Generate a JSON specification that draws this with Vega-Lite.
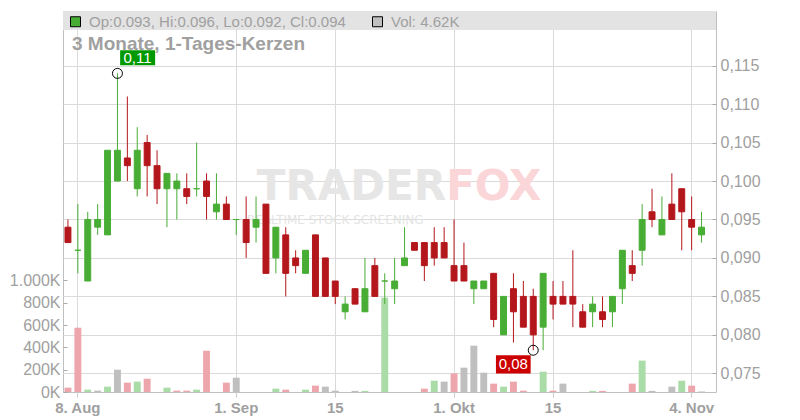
{
  "$schema": "https://vega.github.io/schema/vega-lite/v6.json",
  "width": 653,
  "height": 381,
  "autosize": {"type": "none"},
  "padding": {"left": 63, "top": 11, "right": 84, "bottom": 28},
  "background": "white",
  "title": {"text": "3 Monate, 1-Tages-Kerzen", "anchor": "start", "frame": "group", "offset": -37, "baseline": "alphabetic", "dx": 9, "dy": 21, "fontSize": 19, "fontWeight": "bold", "color": "#a0a0a0", "font": "Liberation Sans"},
  "datasets": {
    "ohlc": [
      {"date":"2025-08-07","open":0.094,"high":0.095,"low":0.092,"close":0.092,"volume":39000},
      {"date":"2025-08-08","open":0.091,"high":0.097,"low":0.088,"close":0.091,"volume":576000},
      {"date":"2025-08-11","open":0.087,"high":0.096,"low":0.087,"close":0.095,"volume":21000},
      {"date":"2025-08-12","open":0.094,"high":0.097,"low":0.093,"close":0.095,"volume":12000},
      {"date":"2025-08-13","open":0.093,"high":0.104,"low":0.093,"close":0.104,"volume":48000},
      {"date":"2025-08-14","open":0.1,"high":0.114,"low":0.1,"close":0.104,"volume":200000},
      {"date":"2025-08-15","open":0.103,"high":0.111,"low":0.1,"close":0.102,"volume":84000},
      {"date":"2025-08-18","open":0.099,"high":0.107,"low":0.098,"close":0.104,"volume":93000},
      {"date":"2025-08-19","open":0.105,"high":0.106,"low":0.098,"close":0.102,"volume":119000},
      {"date":"2025-08-20","open":0.102,"high":0.104,"low":0.097,"close":0.099,"volume":0},
      {"date":"2025-08-21","open":0.099,"high":0.101,"low":0.094,"close":0.101,"volume":39000},
      {"date":"2025-08-22","open":0.099,"high":0.101,"low":0.095,"close":0.1,"volume":12000},
      {"date":"2025-08-25","open":0.099,"high":0.101,"low":0.097,"close":0.098,"volume":12000},
      {"date":"2025-08-26","open":0.099,"high":0.105,"low":0.098,"close":0.099,"volume":21000},
      {"date":"2025-08-27","open":0.1,"high":0.101,"low":0.095,"close":0.098,"volume":370000},
      {"date":"2025-08-28","open":0.096,"high":0.101,"low":0.095,"close":0.097,"volume":0},
      {"date":"2025-08-29","open":0.097,"high":0.098,"low":0.095,"close":0.095,"volume":84000},
      {"date":"2025-09-01","open":0.095,"high":0.095,"low":0.093,"close":0.095,"volume":128000},
      {"date":"2025-09-02","open":0.095,"high":0.098,"low":0.09,"close":0.092,"volume":0},
      {"date":"2025-09-03","open":0.094,"high":0.098,"low":0.092,"close":0.095,"volume":0},
      {"date":"2025-09-04","open":0.097,"high":0.097,"low":0.088,"close":0.088,"volume":0},
      {"date":"2025-09-05","open":0.09,"high":0.094,"low":0.088,"close":0.094,"volume":30000},
      {"date":"2025-09-08","open":0.093,"high":0.094,"low":0.085,"close":0.088,"volume":21000},
      {"date":"2025-09-09","open":0.09,"high":0.091,"low":0.088,"close":0.089,"volume":0},
      {"date":"2025-09-10","open":0.088,"high":0.091,"low":0.088,"close":0.091,"volume":21000},
      {"date":"2025-09-11","open":0.093,"high":0.093,"low":0.085,"close":0.085,"volume":57000},
      {"date":"2025-09-12","open":0.09,"high":0.09,"low":0.085,"close":0.085,"volume":48000},
      {"date":"2025-09-15","open":0.087,"high":0.087,"low":0.084,"close":0.085,"volume":12000},
      {"date":"2025-09-16","open":0.083,"high":0.085,"low":0.082,"close":0.084,"volume":0},
      {"date":"2025-09-17","open":0.086,"high":0.086,"low":0.084,"close":0.084,"volume":10000},
      {"date":"2025-09-18","open":0.083,"high":0.09,"low":0.083,"close":0.086,"volume":10000},
      {"date":"2025-09-19","open":0.089,"high":0.09,"low":0.085,"close":0.085,"volume":0},
      {"date":"2025-09-22","open":0.087,"high":0.088,"low":0.084,"close":0.087,"volume":845000},
      {"date":"2025-09-23","open":0.086,"high":0.09,"low":0.084,"close":0.087,"volume":0},
      {"date":"2025-09-24","open":0.089,"high":0.094,"low":0.089,"close":0.09,"volume":0},
      {"date":"2025-09-25","open":0.092,"high":0.092,"low":0.091,"close":0.091,"volume":0},
      {"date":"2025-09-26","open":0.092,"high":0.092,"low":0.087,"close":0.089,"volume":30000},
      {"date":"2025-09-29","open":0.092,"high":0.094,"low":0.089,"close":0.09,"volume":101000},
      {"date":"2025-09-30","open":0.092,"high":0.094,"low":0.09,"close":0.09,"volume":93000},
      {"date":"2025-10-01","open":0.089,"high":0.095,"low":0.087,"close":0.087,"volume":167000},
      {"date":"2025-10-02","open":0.089,"high":0.092,"low":0.087,"close":0.087,"volume":218000},
      {"date":"2025-10-03","open":0.086,"high":0.087,"low":0.084,"close":0.087,"volume":415000},
      {"date":"2025-10-06","open":0.086,"high":0.087,"low":0.086,"close":0.087,"volume":173000},
      {"date":"2025-10-07","open":0.088,"high":0.088,"low":0.081,"close":0.082,"volume":75000},
      {"date":"2025-10-08","open":0.08,"high":0.085,"low":0.08,"close":0.085,"volume":48000},
      {"date":"2025-10-09","open":0.086,"high":0.088,"low":0.079,"close":0.083,"volume":93000},
      {"date":"2025-10-10","open":0.085,"high":0.087,"low":0.081,"close":0.081,"volume":12000},
      {"date":"2025-10-13","open":0.085,"high":0.086,"low":0.078,"close":0.08,"volume":0},
      {"date":"2025-10-14","open":0.081,"high":0.088,"low":0.078,"close":0.088,"volume":182000},
      {"date":"2025-10-15","open":0.085,"high":0.087,"low":0.082,"close":0.084,"volume":12000},
      {"date":"2025-10-16","open":0.085,"high":0.087,"low":0.084,"close":0.084,"volume":75000},
      {"date":"2025-10-17","open":0.085,"high":0.091,"low":0.081,"close":0.084,"volume":0},
      {"date":"2025-10-20","open":0.083,"high":0.084,"low":0.081,"close":0.081,"volume":0},
      {"date":"2025-10-21","open":0.083,"high":0.085,"low":0.081,"close":0.084,"volume":10000},
      {"date":"2025-10-22","open":0.083,"high":0.085,"low":0.081,"close":0.082,"volume":10000},
      {"date":"2025-10-23","open":0.083,"high":0.085,"low":0.081,"close":0.085,"volume":0},
      {"date":"2025-10-24","open":0.086,"high":0.091,"low":0.084,"close":0.091,"volume":0},
      {"date":"2025-10-27","open":0.089,"high":0.091,"low":0.087,"close":0.088,"volume":75000},
      {"date":"2025-10-28","open":0.091,"high":0.097,"low":0.089,"close":0.095,"volume":281000},
      {"date":"2025-10-29","open":0.096,"high":0.099,"low":0.094,"close":0.095,"volume":10000},
      {"date":"2025-10-30","open":0.093,"high":0.098,"low":0.093,"close":0.095,"volume":0},
      {"date":"2025-10-31","open":0.097,"high":0.101,"low":0.095,"close":0.095,"volume":48000},
      {"date":"2025-11-03","open":0.099,"high":0.099,"low":0.091,"close":0.096,"volume":101000},
      {"date":"2025-11-04","open":0.095,"high":0.098,"low":0.091,"close":0.094,"volume":57000},
      {"date":"2025-11-05","open":0.093,"high":0.096,"low":0.092,"close":0.094,"volume":4620}
    ]
  },
  "data": {"name": "ohlc"},
  "encoding": {
    "x": {
      "field": "date",
      "type": "ordinal",
      "scale": {"paddingInner": 0, "paddingOuter": 0.48, "align": 0},
      "axis": {
        "values": ["2025-08-08","2025-09-01","2025-09-15","2025-10-01","2025-10-15","2025-11-04"],
        "labelExpr": "{'2025-08-08':'8. Aug','2025-09-01':'1. Sep','2025-09-15':'15','2025-10-01':'1. Okt','2025-10-15':'15','2025-11-04':'4. Nov'}[datum.value]",
        "labelAngle": 0,
        "title": null,
        "grid": true,
        "gridColor": "#dadada",
        "domain": false,
        "ticks": true,
        "tickSize": 5,
        "tickColor": "#cccccc",
        "bandPosition": 0.5,
        "labelFontSize": 15,
        "labelColor": "#a0a0a0",
        "labelFont": "Liberation Sans",
        "labelFontWeight": {"condition": {"test": "datum.label == '15'", "value": "normal"}, "value": "bold"},
        "labelPadding": 3,
        "labelOverlap": false
      }
    }
  },
  "layer": [
    {
      "transform": [{"window": [{"op": "lag", "field": "close", "as": "prev"}], "sort": [{"field": "date"}]}],
      "mark": {"type": "bar", "width": {"band": 0.7}},
      "encoding": {
        "y": {
          "field": "volume",
          "type": "quantitative",
          "scale": {"domain": [0, 3414000], "nice": false, "zero": true},
          "axis": {
            "orient": "left",
            "title": null,
            "values": [0, 200000, 400000, 600000, 800000, 1000000],
            "labelExpr": "format(datum.value / 1000, ',') + 'K'",
            "grid": false,
            "domain": false,
            "tickSize": -4,
            "tickColor": "#aaaaaa",
            "labelPadding": 7,
            "labelFontSize": 16,
            "labelColor": "#a0a0a0",
            "labelFont": "Liberation Sans",
            "labelOverlap": false
          }
        },
        "color": {
          "condition": [
            {"test": "datum.prev == null || datum.close < datum.prev", "value": "#eea6ad"},
            {"test": "datum.close > datum.prev", "value": "#a9dca6"}
          ],
          "value": "#bfbfbf"
        }
      }
    },
    {
      "layer": [
        {
          "data": {"values": [{}]},
          "mark": {"type": "rect", "color": "#e3e3e3"},
          "encoding": {
            "x": {"value": 0},
            "x2": {"value": "width"},
            "y": {"datum": 0.11964, "type": "quantitative"},
            "y2": {"datum": 0.12211}
          }
        },
        {
          "data": {"values": [{}]},
          "mark": {"type": "text", "text": "TRADER", "align": "right", "baseline": "alphabetic", "dx": 2, "font": "DejaVu Sans", "fontWeight": "bold", "fontSize": 42, "color": "#e6e6e6"},
          "encoding": {
            "x": {"datum": "2025-09-30", "type": "ordinal"},
            "y": {"datum": 0.0975, "type": "quantitative"}
          }
        },
        {
          "data": {"values": [{}]},
          "mark": {"type": "text", "text": "FOX", "align": "left", "baseline": "alphabetic", "dx": 2, "font": "DejaVu Sans", "fontWeight": "bold", "fontSize": 42, "color": "#fbd6d9"},
          "encoding": {
            "x": {"datum": "2025-09-30", "type": "ordinal"},
            "y": {"datum": 0.0975, "type": "quantitative"}
          }
        },
        {
          "data": {"values": [{}]},
          "mark": {"type": "text", "text": "REALTIME STOCK SCREENING", "align": "center", "baseline": "middle", "dx": 0, "font": "DejaVu Sans", "fontSize": 12, "color": "#e4e4e4"},
          "encoding": {
            "x": {"datum": "2025-09-15", "type": "ordinal"},
            "y": {"datum": 0.09494, "type": "quantitative"}
          }
        },
        {
          "mark": {"type": "rule", "strokeWidth": 1},
          "encoding": {
            "y": {
              "field": "low",
              "type": "quantitative",
              "scale": {"domain": [0.07257, 0.12211], "nice": false, "zero": false},
              "axis": {
                "orient": "right",
                "title": null,
                "values": [0.075, 0.08, 0.085, 0.09, 0.095, 0.1, 0.105, 0.11, 0.115],
                "format": ".3f",
                "grid": true,
                "gridColor": "#dadada",
                "domain": false,
                "tickSize": -4,
                "tickColor": "#aaaaaa",
                "labelPadding": 8,
                "labelFontSize": 16,
                "labelColor": "#a0a0a0",
                "labelFont": "Liberation Sans",
                "labelOverlap": false
              }
            },
            "y2": {"field": "high"},
            "color": {"condition": {"test": "datum.close >= datum.open", "value": "#48ad34"}, "value": "#b4171b"}
          }
        },
        {
          "mark": {"type": "bar", "width": {"band": 0.6}, "strokeWidth": 1},
          "encoding": {
            "y": {"field": "open", "type": "quantitative"},
            "y2": {"field": "close"},
            "color": {"condition": {"test": "datum.close >= datum.open", "value": "#48ad34"}, "value": "#b4171b"},
            "stroke": {"condition": {"test": "datum.close >= datum.open", "value": "#48ad34"}, "value": "#b4171b"}
          }
        },
        {
          "transform": [{"filter": "datum.date == '2025-08-14'"}],
          "mark": {"type": "point", "shape": "M0.27,-2.3H3.77V-0.8H0.27Z", "size": 400, "filled": true, "color": "#009a00", "opacity": 1},
          "encoding": {"y": {"field": "high", "type": "quantitative"}}
        },
        {
          "transform": [{"filter": "datum.date == '2025-08-14'"}],
          "mark": {"type": "text", "dx": 20, "dy": -15.5, "align": "center", "baseline": "middle", "fontSize": 15, "color": "white", "font": "Liberation Sans"},
          "encoding": {"y": {"field": "high", "type": "quantitative"}, "text": {"field": "high", "type": "quantitative", "format": ".2f"}}
        },
        {
          "transform": [{"filter": "datum.date == '2025-08-14'"}],
          "mark": {"type": "point", "shape": "circle", "size": 100, "filled": false, "color": "#000000", "strokeWidth": 1, "opacity": 1},
          "encoding": {"y": {"field": "high", "type": "quantitative"}}
        },
        {
          "transform": [{"filter": "datum.date == '2025-10-13'"}],
          "mark": {"type": "point", "shape": "M-3.73,0.5H-0.26V2.33H-3.73Z", "size": 400, "filled": true, "color": "#cc0000", "opacity": 1},
          "encoding": {"y": {"field": "low", "type": "quantitative"}}
        },
        {
          "transform": [{"filter": "datum.date == '2025-10-13'"}],
          "mark": {"type": "text", "dx": -20, "dy": 14.2, "align": "center", "baseline": "middle", "fontSize": 15, "color": "white", "font": "Liberation Sans"},
          "encoding": {"y": {"field": "low", "type": "quantitative"}, "text": {"field": "low", "type": "quantitative", "format": ".2f"}}
        },
        {
          "transform": [{"filter": "datum.date == '2025-10-13'"}],
          "mark": {"type": "point", "shape": "circle", "size": 100, "filled": false, "color": "#000000", "strokeWidth": 1, "opacity": 1},
          "encoding": {"y": {"field": "low", "type": "quantitative"}}
        }
      ]
    },
    {
      "data": {"values": [{"item": "Op:0.093, Hi:0.096, Lo:0.092, Cl:0.094"}, {"item": "Vol: 4.62K"}]},
      "mark": {"type": "square", "opacity": 0},
      "encoding": {
        "x": {"value": 0},
        "color": {
          "field": "item",
          "type": "nominal",
          "sort": null,
          "scale": {"range": ["#48ad34", "#bfbfbf"]},
          "legend": {
            "orient": "none",
            "legendX": 5,
            "legendY": 3,
            "direction": "horizontal",
            "title": null,
            "symbolType": "square",
            "symbolSize": 100,
            "symbolStrokeColor": "#000000",
            "symbolStrokeWidth": 1,
            "symbolOpacity": 1,
            "labelFontSize": 15,
            "labelColor": "#a0a0a0",
            "labelFont": "Liberation Sans",
            "labelOffset": 6,
            "columnPadding": 24,
            "labelLimit": 400,
            "padding": 0
          }
        }
      }
    }
  ],
  "resolve": {"scale": {"y": "independent"}, "axis": {"y": "independent"}},
  "config": {
    "font": "Liberation Sans",
    "view": {"stroke": "#c0c0c0", "strokeWidth": 1},
    "locale": {"number": {"decimal": ",", "thousands": ".", "grouping": [3], "currency": ["", " €"]}}
  }
}
